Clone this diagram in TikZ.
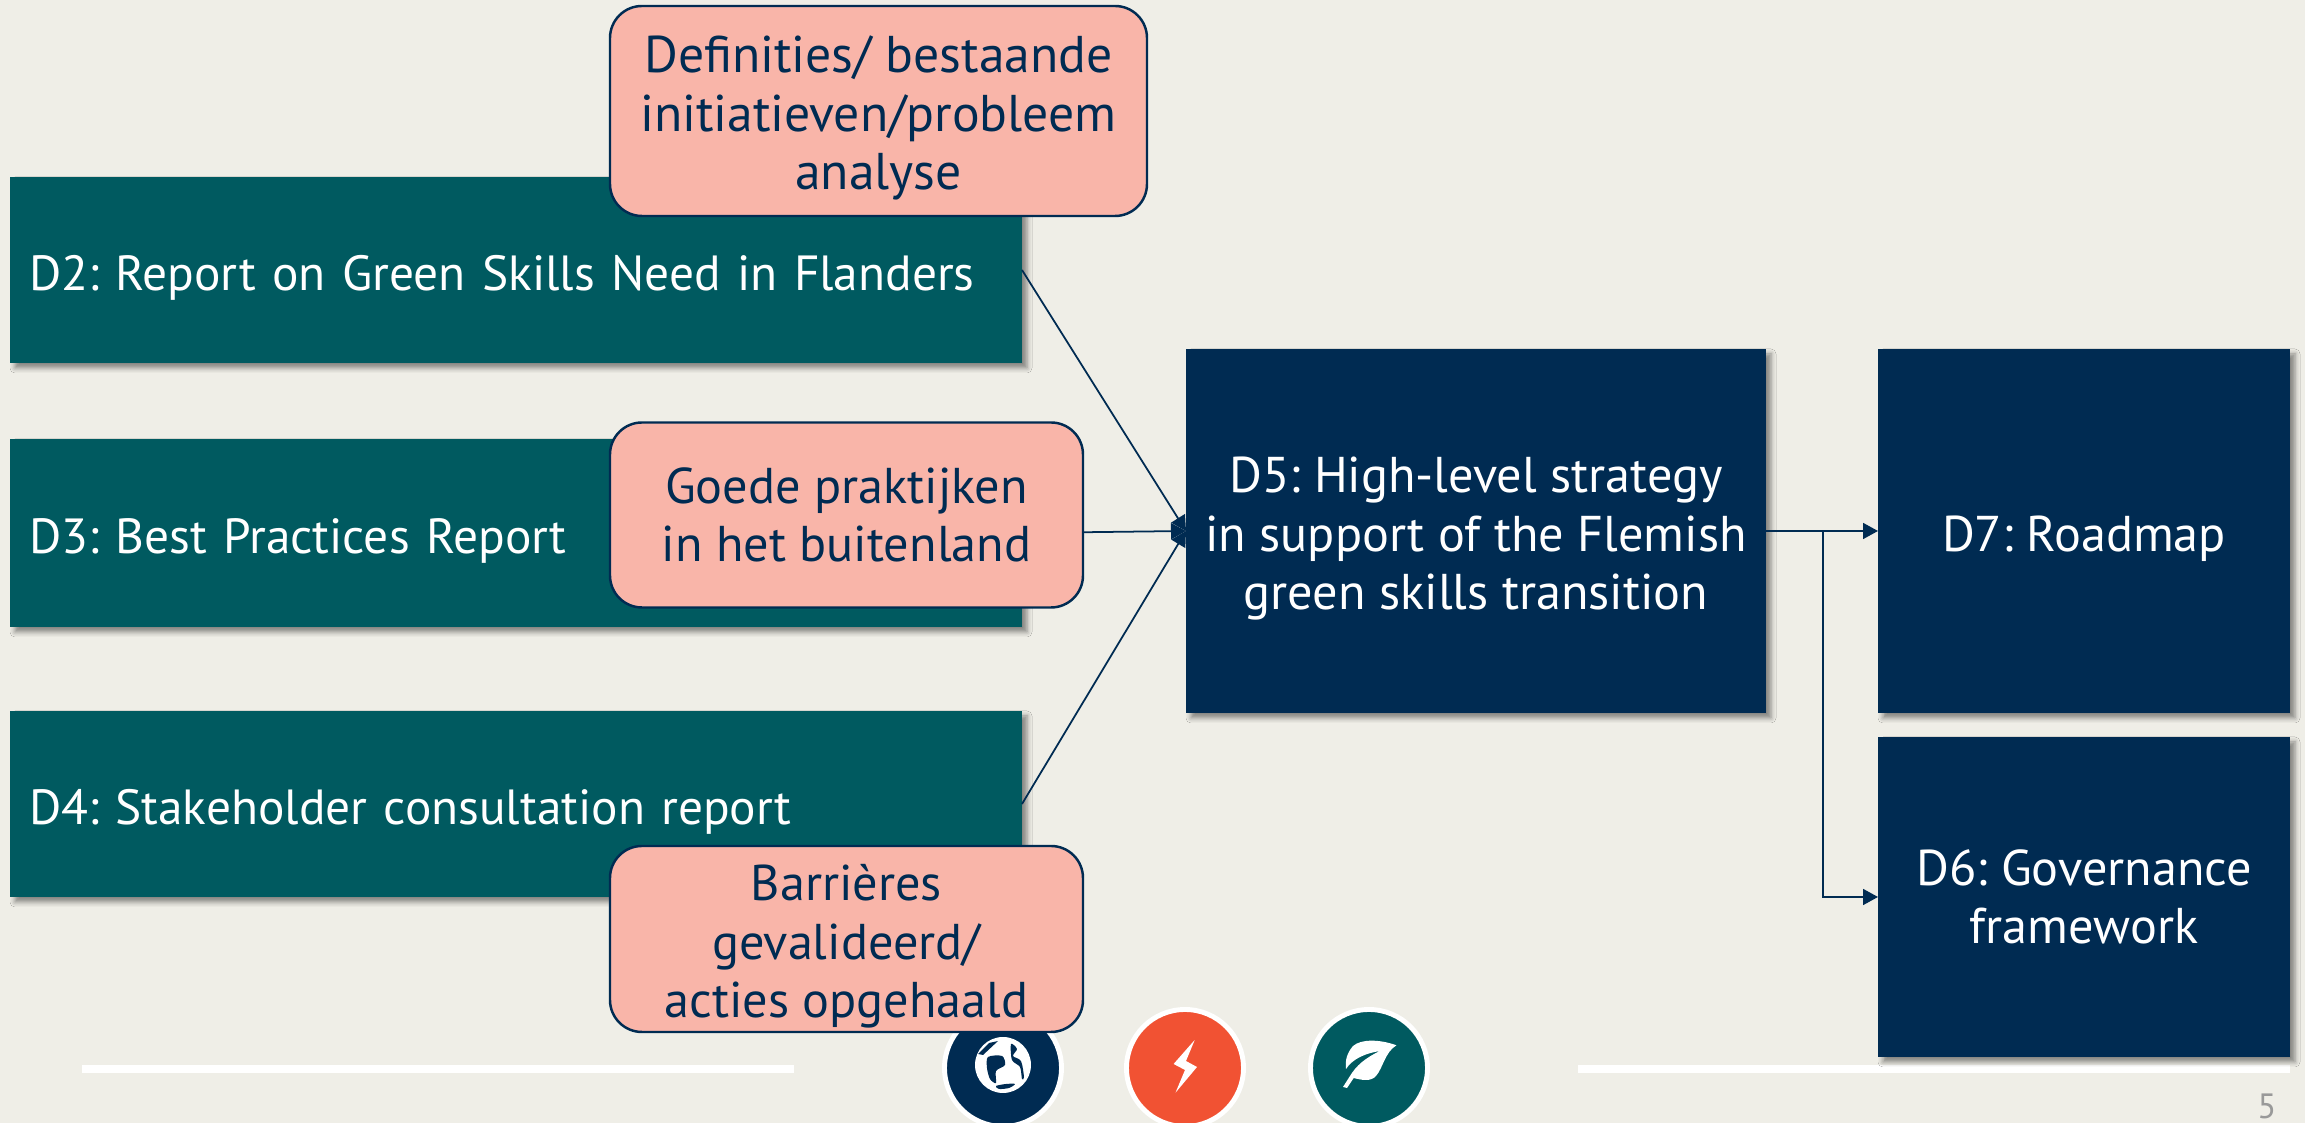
\documentclass[tikz,border=0pt]{standalone}
\usepackage{fontspec}
\setmainfont{PT Sans}
\usetikzlibrary{arrows.meta,shadows.blur}
\definecolor{paper}{HTML}{EFEEE7}
\definecolor{navy}{HTML}{002B52}
\definecolor{teal}{HTML}{005A60}
\definecolor{blush}{HTML}{F9B5A9}
\definecolor{flame}{HTML}{F15233}
\newcommand{\dip}{\rule{0pt}{.51cm}}
\frenchspacing
\tikzset{
  deliv/.style={text=white, align=center, inner sep=0pt, outer sep=0pt,
    blur shadow={shadow xshift=.05cm, shadow yshift=-.05cm, shadow blur radius=.05cm, shadow opacity=45}},
  report/.style={deliv, fill=teal, minimum width=10.12cm, text width=9.74cm, align=left,
    font=\fontsize{14.05}{16.7}\selectfont},
  result/.style={deliv, fill=navy},
  note/.style={fill=blush, draw=navy, line width=.7pt, rounded corners=.32cm, text=navy,
    align=center, inner sep=0pt, outer sep=0pt},
  link/.style={draw=navy, line width=.5pt, -{Triangle[length=.15cm, width=.16cm]}},
  badge/.style={circle, draw=white, line width=1.4pt, minimum size=1.17cm, inner sep=0pt}
}
\begin{document}
\begin{tikzpicture}[font=\fontsize{14.3}{16.7}\selectfont]
  \useasboundingbox (0,0) rectangle (23.05,11.23);
  \fill[paper] (0,0) rectangle (23.05,11.23);

  % lijnen en iconen onderaan
  \fill[white] (.82,.50) rectangle (7.94,.58);
  \fill[white] (15.78,.50) rectangle (22.90,.58);
  \node[badge, fill=navy] (globe) at (10.03,.55) {};
  \node[badge, fill=flame] (bolt) at (11.85,.55) {};
  \node[badge, fill=teal] (leaf) at (13.69,.55) {};
  \node[text=black!40, font=\fontsize{10}{12}\selectfont] (page) at (22.67,.17) {5};

  \begin{scope}[shift={(globe.center)}, scale=.01]
    \fill[white] (0,3) circle (28);
    \fill[navy, smooth cycle] plot coordinates {(-15,11) (-1,12) (2,3) (-7,-3) (-7,-15) (-13,-11) (-16,0)};
    \fill[navy] (-20,13) -- (-5,27) -- (-14,25) -- (-25,14) -- cycle;
    \fill[navy, smooth cycle] plot coordinates {(8,24) (14,19) (10,12) (18,7) (21,-9) (19,-11) (17,1) (9,8)};
    \fill[navy, smooth cycle] plot coordinates {(-7,-18) (3,-16) (12,-16) (6,-20) (-4,-21)};
  \end{scope}
  \begin{scope}[shift={(bolt.center)}, scale=.01]
    \fill[white] (9.7,28) -- (-11.4,4) -- (0,-2) -- (-9.5,-24.7) -- (12,1) -- (1,7) -- cycle;
  \end{scope}
  \begin{scope}[shift={(leaf.center)}, scale=.01]
    \fill[white] (27.5,22.7) .. controls (10,29) and (-8,29) .. (-16,22)
      .. controls (-22,15) and (-24,8) .. (-23,-1) .. controls (-16,10) and (-2,15) .. (11,17)
      .. controls (-4,10) and (-13,2) .. (-19,-8) -- (-26,-19) -- (-22,-20) -- (-15.3,-10)
      .. controls (-8,-12) and (2,-14) .. (7,-8) .. controls (14,0) and (16,16) .. (27.5,22.7) -- cycle;
  \end{scope}

  \node[report, minimum height=1.86cm] (D2) at (5.16,8.53) {\dip D2: Report on Green Skills Need in Flanders};
  \node[report, minimum height=1.88cm] (D3) at (5.16,5.90) {\dip D3: Best Practices Report};
  \node[report, minimum height=1.86cm] (D4) at (5.16,3.19) {\dip D4: Stakeholder consultation report};

  \node[result, minimum width=5.80cm, minimum height=3.64cm] (D5) at (14.76,5.92)
    {\dip D5: High-level strategy\\in support of the Flemish\\green skills transition};
  \node[result, minimum width=4.12cm, minimum height=3.64cm] (D7) at (20.84,5.92) {\dip D7: Roadmap};
  \node[result, minimum width=4.12cm, minimum height=3.20cm] (D6) at (20.84,2.26) {D6: Governance\\framework};
  \coordinate (split) at (18.23,5.92);

  \draw[link] (D2.east) -- (D5.west);
  \draw[link] (D3.east) -- (D5.west);
  \draw[link] (D4.east) -- (D5.west);
  \draw[link] (D5.east) -- (D7.west);
  \draw[link] (split) |- (D6.west);

  \node[note, minimum width=5.37cm, minimum height=2.10cm, font=\fontsize{14.7}{16.7}\selectfont] (defs) at (8.785,10.12)
    {\dip Definities/ bestaande\\initiatieven/probleem\\analyse};
  \node[note, minimum width=4.73cm, minimum height=1.85cm] (abroad) at (8.465,6.08)
    {Goede praktijken\\in het buitenland};
  \node[note, minimum width=4.73cm, minimum height=1.86cm] (barriers) at (8.465,1.84)
    {\dip Barrières\\gevalideerd/\\acties opgehaald};
\end{tikzpicture}
\end{document}
